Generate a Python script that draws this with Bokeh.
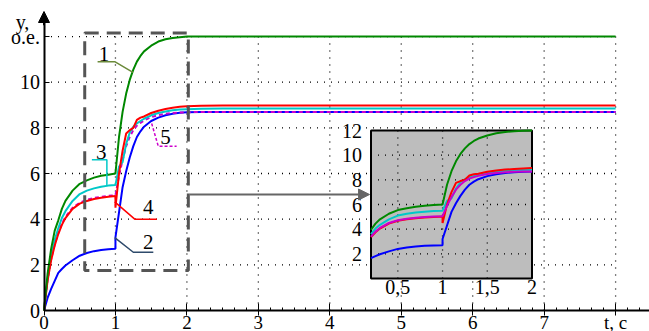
from bokeh.plotting import figure
from bokeh.models import (LinearAxis, FixedTicker, Range1d, ColumnDataSource, Arrow,
                          NormalHead, Label)
from bokeh.core.properties import value
from bokeh.embed import file_html
from bokeh.resources import INLINE

# ---------------- data ----------------
t = [0, 0.05, 0.1, 0.15, 0.2, 0.25, 0.3, 0.4, 0.5, 0.6, 0.7, 0.8, 0.9, 1.0, 1.0,
     1.05, 1.1, 1.15, 1.2, 1.25, 1.3, 1.35, 1.4, 1.5, 1.6, 1.7, 1.8, 1.9, 2.0, 2.2, 2.5, 8.0]
y1 = [0, 1.6, 2.7, 3.5, 3.95, 4.45, 4.8, 5.25, 5.55, 5.7, 5.82, 5.9, 5.95, 6.0, 6.0,
      7.6, 8.7, 9.5, 10.1, 10.55, 10.9, 11.15, 11.35, 11.6, 11.78, 11.88, 11.94, 11.97, 12.0, 12.0, 12.0, 12.0]
y2 = [0, 0.55, 0.95, 1.3, 1.65, 1.82, 1.97, 2.2, 2.4, 2.52, 2.6, 2.65, 2.68, 2.7, 3.2,
      4.3, 5.4, 6.1, 6.7, 7.2, 7.6, 7.85, 8.05, 8.3, 8.45, 8.55, 8.62, 8.66, 8.68, 8.7, 8.7, 8.7]
y3 = [0, 1.4, 2.4, 3.1, 3.6, 4.05, 4.35, 4.8, 5.1, 5.25, 5.35, 5.42, 5.47, 5.5, 5.5,
      6.3, 6.5, 7.3, 7.8, 8.05, 8.2, 8.3, 8.4, 8.55, 8.65, 8.72, 8.77, 8.8, 8.82, 8.84, 8.85, 8.85]
y4 = [0, 1.3, 2.2, 2.85, 3.35, 3.75, 4.05, 4.45, 4.68, 4.8, 4.88, 4.94, 4.98, 5.02, 4.5,
      6.0, 7.0, 7.75, 7.9, 8.0, 8.35, 8.45, 8.5, 8.65, 8.75, 8.83, 8.88, 8.92, 8.95, 8.97, 8.98, 8.98]
y5 = [0, 1.35, 2.25, 2.9, 3.4, 3.8, 4.1, 4.5, 4.72, 4.85, 4.93, 4.98, 5.02, 5.05, 5.05,
      5.9, 6.6, 7.2, 7.6, 7.9, 8.1, 8.22, 8.32, 8.47, 8.56, 8.62, 8.65, 8.67, 8.68, 8.7, 8.7, 8.7]

x_ticks = [0, 1, 2, 3, 4, 5, 6, 7, 8]
x_tick_labels = ["0", "1", "2", "3", "4", "5", "6", "7", "t, c"]
y_ticks = [0, 2, 4, 6, 8, 10, 12]
y_tick_labels = ["0", "2", "4", "6", "8", "10", "o.e."]

inset_x_ticks = [0.5, 1.0, 1.5, 2.0]
inset_x_labels = ["0,5", "1", "1,5", "2"]
inset_y_ticks = [2, 4, 6, 8, 10, 12]
inset_y_labels = ["2", "4", "6", "8", "10", "12"]
inset_t_range = (0.2, 2.0)
inset_y_range = (0, 12)

labels = ["1", "2", "3", "4", "5"]
label_x = [0.84, 1.46, 0.8, 1.46, 1.7]
label_y = [11.25, 3.0, 6.95, 4.55, 7.6]

# ---------------- layout constants (pixels in page) ----------------
W, H = 649, 331
PX0, PY0 = 0, 0                        # canvas origin in page
X0_PAGE, X_PER = 43.5, 71.45           # t = 0 page x, px per second
Y0_PAGE, Y_PER = 310.0, 22.83          # y = 0 page y, px per unit
IX0, IX1, IY0, IY1 = 370.5, 531.5, 278.0, 130.0   # inset box in page px

def xr(px):
    return (px - X0_PAGE) / X_PER

def yr(py):
    return (Y0_PAGE - py) / Y_PER

p = figure(width=W, height=H, output_backend="svg", toolbar_location=None,
           x_axis_type=None, y_axis_type=None, min_border=0,
           x_range=Range1d(xr(PX0), xr(PX0 + W)), y_range=Range1d(yr(PY0 + H), yr(PY0)))
p.outline_line_color = None
p.background_fill_color = "white"
p.border_fill_color = "white"

# inset ranges mapped onto the same frame
ix_per = (IX1 - IX0) / (inset_t_range[1] - inset_t_range[0])
iy_per = (IY0 - IY1) / (inset_y_range[1] - inset_y_range[0])
p.extra_x_ranges = {"ix": Range1d(inset_t_range[0] - (IX0 - PX0) / ix_per,
                                  inset_t_range[1] + (PX0 + W - IX1) / ix_per)}
p.extra_y_ranges = {"iy": Range1d(inset_y_range[0] - (PY0 + H - IY0) / iy_per,
                                  inset_y_range[1] + (IY1 - PY0) / iy_per)}

FONT = "'Liberation Serif', 'Times New Roman', serif"
dot = dict(line_color="black", line_width=1.3, line_dash="1 6")

# main grid
xmax, ymax = x_ticks[-1], y_ticks[-1]
p.segment(x0=x_ticks[1:], y0=[0] * (len(x_ticks) - 1), x1=x_ticks[1:],
          y1=[ymax + 0.17] * (len(x_ticks) - 1), **dot)
p.segment(x0=[0] * (len(y_ticks) - 1), y0=y_ticks[1:], x1=[xmax] * (len(y_ticks) - 1),
          y1=y_ticks[1:], **dot)

# main curves
tt = t[:-1] + [xmax]
p.line(tt, y2, line_color="#0000ff", line_width=2)
p.line(tt, y5, line_color="#cc00cc", line_width=2, line_dash="4 3")
p.line(tt, y3, line_color="#00c8c8", line_width=2)
p.line(tt, y4, line_color="#ff0000", line_width=2)
p.line(tt, y1, line_color="#008800", line_width=2)

# zoom rectangle
p.quad(left=[0.57], right=[2.02], bottom=[1.75], top=[12.15], fill_color=None,
       line_color="#555555", line_width=3, line_dash="14 8")

# leaders
p.line([0.75, 0.99, 1.245], [10.9, 10.9, 10.43], line_color="#6b8a3a", line_width=1.5)
p.line([0.67, 0.88, 0.88], [6.6, 6.6, 5.49], line_color="#00c8c8", line_width=1.5)
p.line([0.99, 1.27, 1.58], [4.76, 4.0, 4.0], line_color="#ff0000", line_width=1.5)
p.line([0.99, 1.25, 1.53], [3.19, 2.55, 2.55], line_color="#2e4a6b", line_width=1.5)
p.line([1.507, 1.60, 1.856], [8.19, 7.19, 7.19], line_color="#cc00cc", line_width=1.5,
       line_dash="3 2")

lab_src = ColumnDataSource(dict(x=label_x, y=label_y, text=labels))
p.text(x="x", y="y", text="text", source=lab_src, text_font=value(FONT),
       text_font_size=value("21px"), text_align="center", text_baseline="middle",
       text_color="black")

# arrow from zoom box to inset
p.add_layout(Arrow(end=NormalHead(size=11, fill_color="#666666", line_color="#666666"),
                   line_color="#666666", line_width=2,
                   x_start=2.04, y_start=yr(194), x_end=xr(IX0) - 0.02, y_end=yr(194)))

# ---------------- inset ----------------
ik = dict(x_range_name="ix", y_range_name="iy")
p.quad(left=[inset_t_range[0]], right=[inset_t_range[1]], bottom=[inset_y_range[0]],
       top=[inset_y_range[1]], fill_color="#bdbdbd", line_color="black", line_width=2, **ik)
p.segment(x0=inset_x_ticks[:-1], y0=[inset_y_range[0]] * 3, x1=inset_x_ticks[:-1],
          y1=[inset_y_range[1]] * 3, **dot, **ik)
p.segment(x0=[inset_t_range[0]] * 5, y0=inset_y_ticks[:-1], x1=[inset_t_range[1]] * 5,
          y1=inset_y_ticks[:-1], **dot, **ik)

sel = [i for i, v in enumerate(t) if inset_t_range[0] <= v <= inset_t_range[1]]
ti = [t[i] for i in sel]
for ys, col in [(y2, "#0000ff"), (y3, "#00c8c8"), (y4, "#ff0000"), (y5, "#cc00cc"),
                (y1, "#008800")]:
    p.line(ti, [ys[i] for i in sel], line_color=col, line_width=2, **ik)

# ---------------- axes ----------------
xa = LinearAxis(ticker=FixedTicker(ticks=x_ticks, minor_ticks=[i / 6 for i in range(1, 51) if i % 6]),
                fixed_location=0, bounds=(0, xr(PX0 + W)))
xa.major_label_overrides = {k: v for k, v in zip(x_ticks, x_tick_labels)}
xa.axis_line_width = 2
xa.major_tick_in = 7
xa.major_tick_out = 5
xa.minor_tick_in = 3
xa.minor_tick_out = 0
xa.major_label_standoff = -4
xa.major_label_text_font = FONT
xa.major_label_text_font_size = "19px"
xa.major_label_text_color = "black"
p.add_layout(xa, "below")

ya = LinearAxis(ticker=FixedTicker(ticks=y_ticks), fixed_location=0, bounds=(0, yr(PY0 + 16)))
ya.major_label_overrides = {k: v for k, v in zip(y_ticks, y_tick_labels)}
ya.axis_line_width = 2
ya.major_tick_in = 5
ya.major_tick_out = 0
ya.minor_tick_line_color = None
ya.major_label_standoff = 4
ya.major_label_text_font = FONT
ya.major_label_text_font_size = "20px"
ya.major_label_text_color = "black"
p.add_layout(ya, "left")

p.add_layout(Arrow(end=NormalHead(size=11, fill_color="black", line_color="black"),
                   line_color="black", line_width=2, x_start=0, y_start=12.5,
                   x_end=0, y_end=yr(PY0 + 11)))
p.add_layout(Label(x=xr(22), y=yr(21), text="y,", text_font=FONT, text_font_size="20px",
                   text_align="center", text_baseline="middle", text_color="black"))

ixa = LinearAxis(ticker=FixedTicker(ticks=inset_x_ticks), fixed_location=inset_y_range[0],
                 bounds=inset_t_range, **ik)
ixa.major_label_overrides = {k: v for k, v in zip(inset_x_ticks, inset_x_labels)}
ixa.axis_line_color = None
ixa.major_tick_line_color = None
ixa.minor_tick_line_color = None
ixa.major_label_standoff = -5
ixa.major_label_text_font = FONT
ixa.major_label_text_font_size = "20px"
ixa.major_label_text_color = "black"
p.add_layout(ixa, "below")

iya = LinearAxis(ticker=FixedTicker(ticks=inset_y_ticks), fixed_location=inset_t_range[0],
                 bounds=inset_y_range, **ik)
iya.major_label_overrides = {k: v for k, v in zip(inset_y_ticks, inset_y_labels)}
iya.axis_line_color = None
iya.major_tick_line_color = None
iya.minor_tick_line_color = None
iya.major_label_standoff = 3
iya.major_label_text_font = FONT
iya.major_label_text_font_size = "20px"
iya.major_label_text_color = "black"
p.add_layout(iya, "left")

open("out.html", "w").write(file_html(p, INLINE))
